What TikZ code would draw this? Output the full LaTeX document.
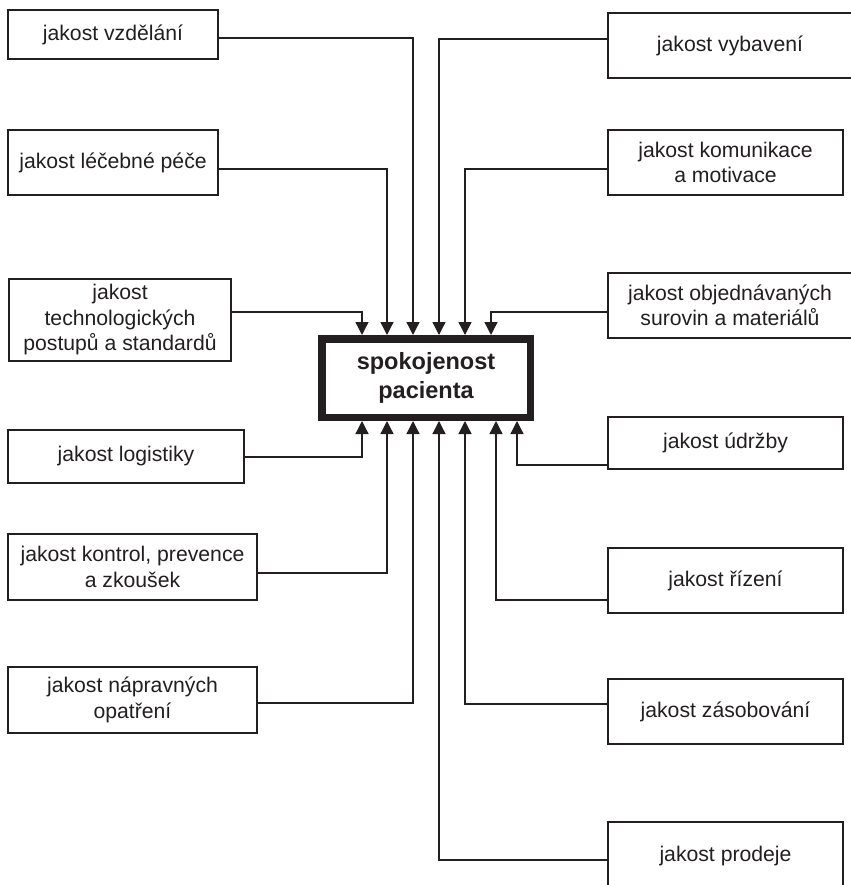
\documentclass[tikz,border=0pt]{standalone}
\usepackage{fontspec}
\setmainfont{Liberation Sans}
\usetikzlibrary{arrows.meta}
\definecolor{ink}{HTML}{231F20}
\begin{document}
\begin{tikzpicture}[x=1bp,y=-1bp,
  box/.style={draw=ink,line width=1.3bp,inner sep=0pt,align=center,text=ink,
    font=\fontsize{21.2bp}{25.5bp}\selectfont},
  centre/.style={draw=ink,line width=7.5bp,inner sep=0pt,align=center,text=ink,
    minimum width=208.5bp,minimum height=78.5bp,
    font=\fontsize{23.5bp}{29bp}\selectfont\bfseries},
  conn/.style={draw=ink,line width=1.3bp},
  arr/.style={conn,-{Triangle[length=13bp,width=13bp]}}]
\useasboundingbox (0,0) rectangle (851,885);
\fill[white] (0,0) rectangle (851,885);
\clip (0,0) rectangle (851,885);
% centre
\node[centre] (C) at (426,378) {spokojenost\\pacienta};
% left boxes
\node[box,minimum width=210bp,minimum height=49bp] (L1) at (113,34.5) {jakost vzdělání};
\node[box,minimum width=210bp,minimum height=65bp] (L2) at (113,162.5) {jakost léčebné péče};
\node[box,minimum width=222bp,minimum height=82bp] (L3) at (120,320) {jakost\\technologických\\postupů a standardů};
\node[box,minimum width=236bp,minimum height=53bp] (L4) at (126,456.5) {jakost logistiky};
\node[box,minimum width=249bp,minimum height=66bp] (L5) at (132.5,567) {jakost kontrol, prevence\\a zkoušek};
\node[box,minimum width=249bp,minimum height=66bp] (L6) at (132.5,700) {jakost nápravných\\opatření};
% right boxes
\node[box,minimum width=244bp,minimum height=65bp] (R1) at (730,45.5) {jakost vybavení};
\node[box,minimum width=235bp,minimum height=65bp] (R2) at (725.5,162.5) {jakost komunikace\\a motivace};
\node[box,minimum width=244bp,minimum height=65bp] (R3) at (730,305.5) {jakost objednávaných\\surovin a materiálů};
\node[box,minimum width=235bp,minimum height=52bp] (R4) at (725.5,443) {jakost údržby};
\node[box,minimum width=235bp,minimum height=65bp] (R5) at (725.5,580.5) {jakost řízení};
\node[box,minimum width=235bp,minimum height=65bp] (R6) at (725.5,711.5) {jakost zásobování};
\node[box,minimum width=235bp,minimum height=68bp] (R7) at (725.5,856) {jakost prodeje};
% connectors to top
\draw[arr] ([yshift=-3.5bp]L1.east) -| ([xshift=-13bp]C.north);
\draw[arr] ([yshift=-6.5bp]L2.east) -| ([xshift=-39bp]C.north);
\draw[arr] ([yshift=8bp]L3.east) -| ([xshift=-64bp]C.north);
\draw[arr] ([yshift=6.5bp]R1.west) -| ([xshift=13bp]C.north);
\draw[arr] ([yshift=-6.5bp]R2.west) -| ([xshift=39bp]C.north);
\draw[arr] ([yshift=-6.5bp]R3.west) -| ([xshift=65bp]C.north);
% connectors to bottom
\draw[arr] ([yshift=-0.5bp]L4.east) -| ([xshift=-64bp]C.south);
\draw[arr] ([yshift=-6bp]L5.east) -| ([xshift=-39bp]C.south);
\draw[arr] ([yshift=-3bp]L6.east) -| ([xshift=-13bp]C.south);
\draw[arr] ([yshift=-22bp]R4.west) -| ([xshift=91bp]C.south);
\draw[arr] ([yshift=-19.5bp]R5.west) -| ([xshift=70bp]C.south);
\draw[arr] ([yshift=7.5bp]R6.west) -| ([xshift=39bp]C.south);
\draw[arr] ([yshift=-4bp]R7.west) -| ([xshift=13bp]C.south);
\end{tikzpicture}
\end{document}
